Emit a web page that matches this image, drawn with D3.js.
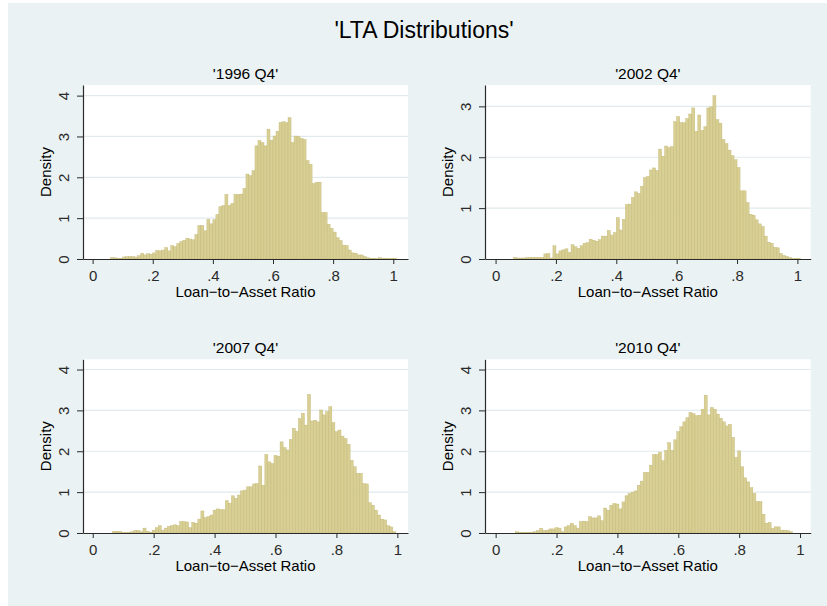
<!DOCTYPE html>
<html>
<head>
<meta charset="utf-8">
<script src="https://cdn.jsdelivr.net/npm/d3@7"></script>
<style>
  body { margin: 0; background: #fff; }
  svg { display: block; font-family: "Liberation Sans", Arial, Helvetica, sans-serif; }
</style>
</head>
<body>
<svg id="chart" width="827" height="606"></svg>
<script>
// chart text
const mainTitle = "'LTA Distributions'";
const panelTitles = ["'1996 Q4'", "'2002 Q4'", "'2007 Q4'", "'2010 Q4'"];
const xTitle = "Loan\u2212to\u2212Asset Ratio";
const yTitle = "Density";

// tick values + labels
const xTicks = [0, 0.2, 0.4, 0.6, 0.8, 1];
const xTickLabels = ["0", ".2", ".4", ".6", ".8", "1"];
const yTicks1996 = [0, 1, 2, 3, 4];
const yTicks2002 = [0, 1, 2, 3];
const yTicks2007 = [0, 1, 2, 3, 4];
const yTicks2010 = [0, 1, 2, 3, 4];

// histogram bins: width 0.01, first bin centre per panel
const binWidth = 0.01;
const firstBin = [0.065, 0.065, 0.07, 0.07];

// densities, one value per bin
const lta1996 = [
  0.03, 0.03, 0.02, 0.02, 0.05, 0.06, 0.06, 0.06, 0.05, 0.08,
  0.14, 0.10, 0.13, 0.12, 0.15, 0.21, 0.20, 0.22, 0.28, 0.20,
  0.33, 0.30, 0.38, 0.43, 0.46, 0.51, 0.49, 0.47, 0.60, 0.82,
  0.82, 0.69, 0.97, 0.86, 0.96, 1.09, 1.28, 1.31, 1.58, 1.31,
  1.36, 1.58, 1.58, 1.59, 1.73, 2.08, 2.04, 2.16, 2.77, 2.90,
  2.85, 2.77, 3.18, 2.91, 3.01, 3.13, 3.34, 3.36, 3.34, 3.46,
  2.85, 3.01, 3.00, 2.95, 2.93, 2.41, 2.32, 1.85, 1.88, 1.88,
  1.14, 1.14, 0.85, 0.75, 0.66, 0.52, 0.45, 0.34, 0.33, 0.22,
  0.15, 0.14, 0.10, 0.10, 0.06, 0.03, 0.02, 0.02, 0.01, 0.03,
  0.02, 0.02, 0.01, 0.01, 0.02
];
const lta2002 = [
  0.03, 0.02, 0.02, 0.02, 0.03, 0.03, 0.03, 0.03, 0.03, 0.03,
  0.10, 0.11, 0.02, 0.26, 0.10, 0.16, 0.18, 0.20, 0.13, 0.28,
  0.24, 0.21, 0.26, 0.31, 0.32, 0.39, 0.37, 0.35, 0.38, 0.45,
  0.45, 0.56, 0.47, 0.52, 0.81, 0.57, 0.78, 1.07, 1.08, 1.21,
  1.32, 1.29, 1.43, 1.60, 1.62, 1.75, 1.79, 1.74, 2.16, 2.02,
  2.22, 2.19, 2.21, 2.70, 2.80, 2.68, 2.68, 2.76, 2.85, 2.97,
  2.51, 2.83, 2.53, 2.60, 2.97, 2.99, 3.21, 2.74, 2.67, 2.35,
  2.27, 2.14, 2.03, 1.95, 1.80, 1.34, 1.34, 1.11, 0.88, 0.86,
  0.77, 0.69, 0.64, 0.45, 0.33, 0.31, 0.23, 0.22, 0.11, 0.07,
  0.05, 0.03, 0.01, 0.01, 0.01
];
const lta2007 = [
  0.04, 0.04, 0.04, 0.01, 0.01, 0.02, 0.03, 0.06, 0.06, 0.03,
  0.12, 0.04, 0.02, 0.07, 0.13, 0.18, 0.07, 0.12, 0.16, 0.18,
  0.20, 0.18, 0.28, 0.28, 0.27, 0.13, 0.26, 0.24, 0.34, 0.54,
  0.38, 0.40, 0.44, 0.56, 0.59, 0.57, 0.57,
  0.79, 0.73, 0.91, 0.85, 0.93, 1.03, 1.05, 1.13, 1.13, 1.20,
  1.21, 1.64, 1.17, 1.92, 1.74, 1.70, 1.90, 1.88, 2.23, 2.09,
  2.03, 2.29, 2.56, 2.49, 2.80, 2.93, 2.64, 3.39, 2.74, 2.76,
  2.72, 3.01, 2.89, 2.97, 3.09, 2.70, 2.48, 2.52, 2.37, 2.31,
  2.17, 1.78, 1.62, 1.46, 1.46, 1.21, 1.20, 0.74, 0.68, 0.56,
  0.44, 0.34, 0.32, 0.18, 0.15, 0.03
];
const lta2010 = [
  0.03, 0.02, 0.02, 0.02, 0.02, 0.02, 0.03, 0.06, 0.11, 0.06,
  0.07, 0.10, 0.10, 0.13, 0.12, 0.03, 0.15, 0.18, 0.24, 0.18,
  0.12, 0.28, 0.29, 0.28, 0.40, 0.37, 0.37, 0.42, 0.30, 0.61,
  0.56, 0.68, 0.72, 0.71, 0.59, 0.76,
  0.91, 0.97, 1.00, 1.03, 1.17, 1.27, 1.48, 1.48, 1.66, 1.92,
  1.92, 1.98, 1.77, 2.02, 2.21, 2.02, 2.28, 2.48, 2.60, 2.72,
  2.82, 2.95, 2.92, 2.87, 2.88, 3.03, 3.37, 2.89, 3.07, 3.03,
  2.91, 2.81, 2.72, 2.62, 2.66, 2.34, 1.85, 2.01, 1.62, 1.35,
  1.25, 1.11, 0.97, 0.77, 0.77, 0.46, 0.24, 0.26, 0.11, 0.15,
  0.15, 0.07, 0.07, 0.06, 0.03
];

const densities = [lta1996, lta2002, lta2007, lta2010];
const yTicks = [yTicks1996, yTicks2002, yTicks2007, yTicks2010];

// plot regions (pixels) and axis extents for each panel
const frames = [
  { left: 83, right: 408, top: 85, bottom: 259, xmin: -0.032, xmax: 1.049, ymax: 4.26 },
  { left: 485, right: 810.7, top: 85, bottom: 259, xmin: -0.035, xmax: 1.044, ymax: 3.42 },
  { left: 83, right: 408, top: 359.3, bottom: 533, xmin: -0.032, xmax: 1.035, ymax: 4.25 },
  { left: 485, right: 810.7, top: 359.3, bottom: 533, xmin: -0.035, xmax: 1.035, ymax: 4.25 }
];

const bg = "#eaf2f3", grid = "#e1eaed", ink = "#2a2a2a";
const barFill = "#d8cf95", barLine = "#c2b672";

const svg = d3.select("#chart");

svg.append("rect").attr("x", 8).attr("y", 3).attr("width", 819).attr("height", 603).attr("fill", bg);

svg.append("text")
  .attr("x", 424).attr("y", 38)
  .attr("text-anchor", "middle")
  .attr("font-size", 23)
  .text(mainTitle);

frames.forEach(function (f, p) {
  const x = d3.scaleLinear().domain([f.xmin, f.xmax]).range([f.left, f.right]);
  const y = d3.scaleLinear().domain([0, f.ymax]).range([f.bottom, f.top]);
  const g = svg.append("g");

  g.append("rect")
    .attr("x", f.left).attr("y", f.top)
    .attr("width", f.right - f.left).attr("height", f.bottom - f.top)
    .attr("fill", "#fff");

  // grid lines
  g.selectAll(".grid").data(yTicks[p].filter(d => d > 0)).enter().append("line")
    .attr("x1", f.left).attr("x2", f.right)
    .attr("y1", d => y(d)).attr("y2", d => y(d))
    .attr("stroke", grid).attr("stroke-width", 1.2);

  // bars
  g.selectAll(".bar").data(densities[p]).enter().append("rect")
    .attr("x", (d, i) => x(firstBin[p] + i * binWidth - binWidth / 2))
    .attr("width", x(binWidth) - x(0))
    .attr("y", d => y(d))
    .attr("height", d => y(0) - y(d))
    .attr("fill", barFill)
    .attr("stroke", barLine)
    .attr("stroke-width", 0.4);

  // y axis
  const ya = g.append("g").attr("transform", "translate(" + f.left + ",0)")
    .call(d3.axisLeft(y).tickValues(yTicks[p]).tickSize(6).tickSizeOuter(0).tickFormat(d3.format("d")));
  ya.selectAll("text")
    .attr("x", null).attr("dy", null)
    .attr("text-anchor", "middle")
    .attr("transform", "translate(-13.7,0) rotate(-90)")
    .attr("font-size", 15).attr("fill", ink);

  // x axis
  const xa = g.append("g").attr("transform", "translate(0," + f.bottom + ")")
    .call(d3.axisBottom(x).tickValues(xTicks).tickSize(5).tickSizeOuter(0).tickFormat((d, i) => xTickLabels[i]));
  xa.selectAll("text")
    .attr("y", 21.5).attr("dy", null)
    .attr("font-size", 15).attr("fill", ink);

  [ya, xa].forEach(a => {
    a.attr("font-family", null);
    a.select(".domain").attr("stroke", ink).attr("stroke-width", 1.2);
    a.selectAll(".tick line").attr("stroke", ink).attr("stroke-width", 1);
  });

  // titles
  g.append("text")
    .attr("x", (f.left + f.right) / 2).attr("y", f.top - 6.5)
    .attr("text-anchor", "middle").attr("font-size", 15.5)
    .text(panelTitles[p]);

  g.append("text")
    .attr("x", (f.left + f.right) / 2).attr("y", f.bottom + 37.5)
    .attr("text-anchor", "middle").attr("font-size", 15)
    .text(xTitle);

  g.append("text")
    .attr("transform", "translate(" + (f.left - 32) + "," + ((f.top + f.bottom) / 2) + ") rotate(-90)")
    .attr("text-anchor", "middle").attr("font-size", 15)
    .text(yTitle);
});
</script>
</body>
</html>
